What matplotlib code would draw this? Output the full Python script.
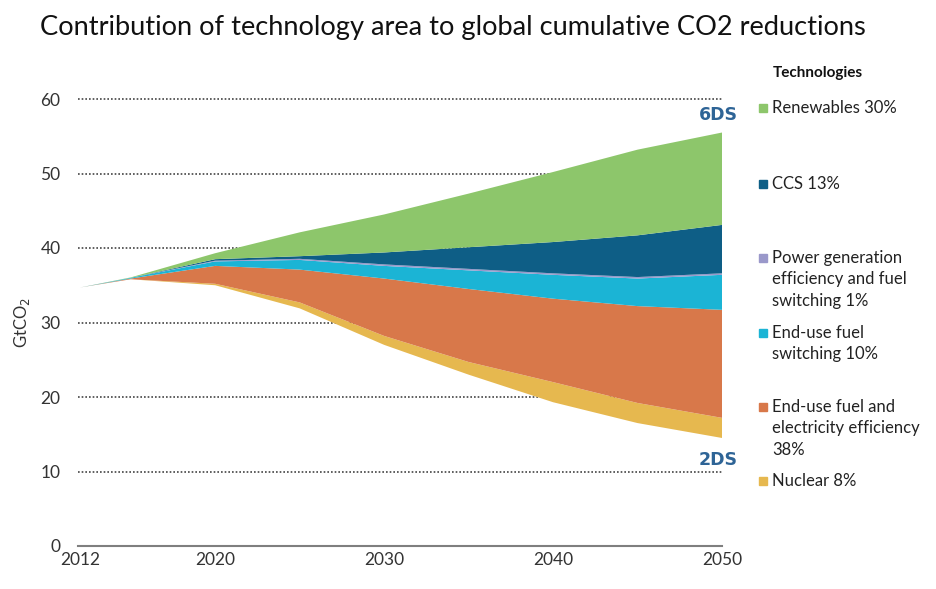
import matplotlib
matplotlib.use("Agg")
import matplotlib.pyplot as plt
from matplotlib.patches import Rectangle

years = [2012, 2015, 2020, 2025, 2030, 2035, 2040, 2045, 2050]
baseline_2ds = [34.7, 35.8, 35.0, 31.9, 27.0, 23.0, 19.3, 16.5, 14.5]
nuclear = [0, 0, 0.2, 0.8, 1.2, 1.7, 2.7, 2.7, 2.7]
enduse_eff = [0, 0.1, 2.4, 4.4, 7.7, 9.8, 11.2, 13.0, 14.5]
enduse_switch = [0, 0.1, 0.6, 1.3, 1.7, 2.5, 3.2, 3.7, 4.7]
power_gen = [0, 0, 0.1, 0.15, 0.2, 0.2, 0.2, 0.2, 0.2]
ccs = [0, 0, 0.2, 0.35, 1.6, 2.9, 4.2, 5.6, 6.5]
renewables = [0, 0.05, 0.8, 3.2, 5.1, 7.2, 9.4, 11.5, 12.4]

layers = [nuclear, enduse_eff, enduse_switch, power_gen, ccs, renewables]
colors = ["#E6B84F", "#D8784A", "#1BB4D5", "#9A98CA", "#0E5E86", "#8DC66B"]

legend_labels = ["Renewables 30%", "CCS 13%",
                 "Power generation\nefficiency and fuel\nswitching 1%",
                 "End-use fuel\nswitching 10%",
                 "End-use fuel and\nelectricity efficiency\n38%",
                 "Nuclear 8%"]
legend_colors = ["#8DC66B", "#0E5E86", "#9A98CA", "#1BB4D5", "#D8784A", "#E6B84F"]
legend_y = [108, 184, 258, 333, 407, 481]

yticks = [0, 10, 20, 30, 40, 50, 60]
xticks = [2012, 2020, 2030, 2040, 2050]

W, H = 936, 589
fig = plt.figure(figsize=(W / 100, H / 100), dpi=100)
fig.patch.set_facecolor("white")
ax = fig.add_axes([80 / W, (H - 546) / H, (722 - 80) / W, (546 - 99) / H])

ax.stackplot(years, [baseline_2ds] + layers,
             colors=["none"] + colors, linewidth=0, zorder=3)

for y in yticks[1:]:
    ax.plot([2011.9, 2050], [y, y], linestyle=(0, (1, 1.2)), color="#444444",
            linewidth=1.2, zorder=1, clip_on=False)

ax.set_xlim(2012, 2050)
ax.set_ylim(0, 60)
for s in ["top", "right", "left"]:
    ax.spines[s].set_visible(False)
ax.spines["bottom"].set_color("#7f7f7f")
ax.spines["bottom"].set_linewidth(1.5)
ax.spines["bottom"].set_bounds(2011.9, 2050)
ax.set_yticks(yticks)
ax.set_xticks(xticks)
ax.tick_params(length=0, labelsize=12.5, colors="#333333")
ax.tick_params(axis="y", pad=14)
ax.tick_params(axis="x", pad=4)
for lbl in ax.get_xticklabels() + ax.get_yticklabels():
    lbl.set_family("Lato")
ax.set_ylabel("GtCO$_2$", fontsize=12, color="#333333", labelpad=6, family="Lato")

fig.text(40 / W, 1 - 28 / H,
         "Contribution of technology area to global cumulative CO2 reductions",
         fontsize=19.6, family="Lato", ha="left", va="center", color="#111111")

ax.text(2049.8, 57.8, "6DS", ha="center", va="center", fontsize=12.5,
        fontweight="bold", color="#2E6496", family="Liberation Sans Narrow")
ax.text(2049.8, 11.5, "2DS", ha="center", va="center", fontsize=12.5,
        fontweight="bold", color="#2E6496", family="Liberation Sans Narrow")

fig.text(773 / W, 1 - 73 / H, "Technologies", fontsize=11, fontweight="bold",
         family="Lato", ha="left", va="center", color="#111111")
for lab, col, y in zip(legend_labels, legend_colors, legend_y):
    fig.add_artist(Rectangle(((759) / W, 1 - (y + 4) / H), 8 / W, 8 / H,
                             transform=fig.transFigure, color=col))
    fig.text(772 / W, 1 - (y - 8) / H, lab, fontsize=12, family="Lato",
             ha="left", va="top", color="#222222", linespacing=1.42)

fig.savefig("out.png", dpi=100)
